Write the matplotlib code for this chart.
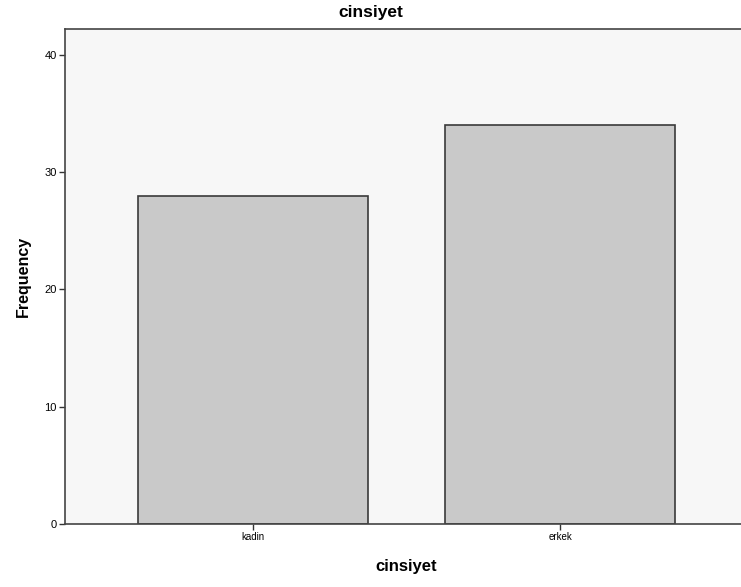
import matplotlib
matplotlib.use("Agg")
import matplotlib.pyplot as plt

# veriler
categories = ["kadin", "erkek"]
frequency = [28, 34]
yticks = [0, 10, 20, 30, 40]

plt.rcParams['font.family'] = ['Liberation Sans', 'DejaVu Sans']

fig = plt.figure(figsize=(7.41, 5.87), dpi=100)
ax = fig.add_axes([0.0877, 0.1073, 0.9217, 0.8433])
ax.set_facecolor("#f7f7f7")

x = range(len(categories))
ax.bar(x, frequency, width=0.75, color="#c9c9c9", edgecolor="#3a3a3a", linewidth=1.2)

ax.set_xlim(-0.612, 1.612)
ax.set_ylim(0, 42.2)
ax.set_xticks(list(x))
ax.set_xticklabels(categories, fontsize=7)
ax.set_yticks(yticks)
ax.set_yticklabels([str(v) for v in yticks], fontsize=8)
ax.tick_params(axis="both", length=4, width=1, color="#333333", pad=2)

for s in ax.spines.values():
    s.set_color("#444444")
    s.set_linewidth(1.2)

# baslik figurun ortasinda
fig.text(0.5, 1 - 12 / 587, "cinsiyet", fontsize=12.5, fontweight="bold",
         ha="center", va="center")
ax.set_xlabel("cinsiyet", fontsize=12, fontweight="bold", labelpad=12)
ax.set_ylabel("Frequency", fontsize=11.5, fontweight="bold", labelpad=10)

fig.savefig("out.png", dpi=100)
